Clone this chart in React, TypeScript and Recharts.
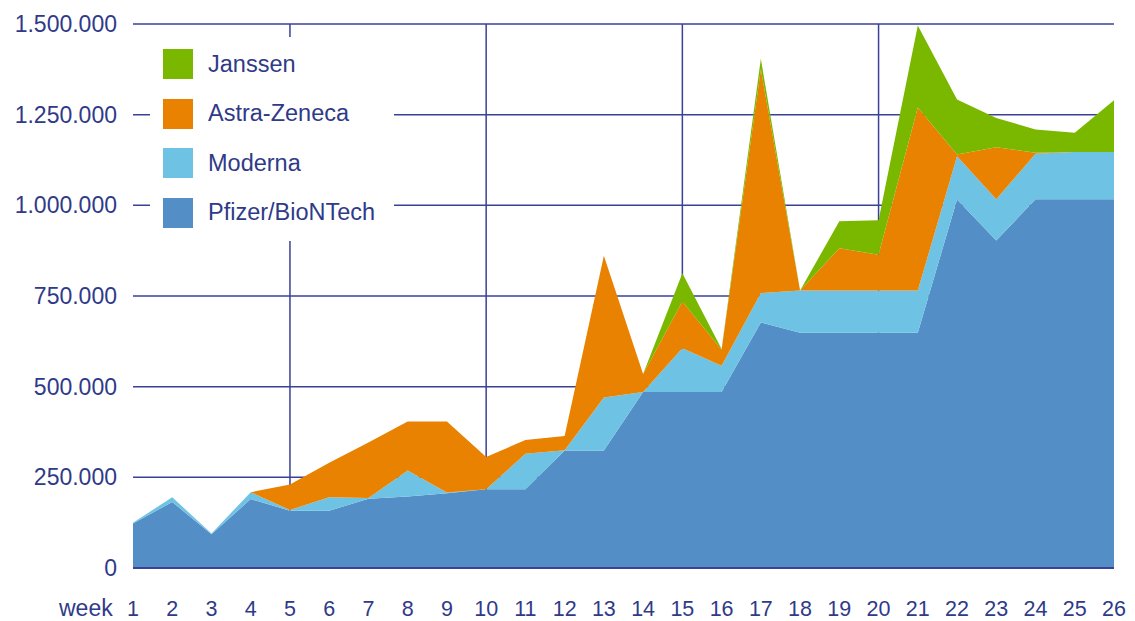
import React from 'react';
import { AreaChart, Area, XAxis, YAxis, CartesianGrid } from 'recharts';

// weekly deliveries, in thousands of doses
const weeks = [1, 2, 3, 4, 5, 6, 7, 8, 9, 10, 11, 12, 13, 14, 15, 16, 17, 18, 19, 20, 21, 22, 23, 24, 25, 26];
const pfizer = [123, 182, 93, 190, 158, 158, 191, 197, 206, 217, 217, 324, 324, 485, 485, 485, 677, 649, 649, 649, 649, 1016, 903, 1017, 1017, 1017];
const moderna = [2, 13, 2, 19, 2, 37, 2, 72, 2, 0, 98, 1, 146, 0, 121, 73, 81, 116, 116, 116, 116, 119, 114, 125, 130, 130];
const astra = [0, 0, 0, 0, 70, 95, 153, 135, 196, 89, 38, 39, 391, 50, 129, 44, 617, 0, 117, 99, 505, 5, 143, 3, 0, 0];
const janssen = [0, 0, 0, 0, 0, 0, 0, 0, 0, 0, 0, 0, 0, 0, 78, 2, 29, 0, 74, 95, 226, 152, 81, 64, 53, 143];

const yTicks = [0, 250000, 500000, 750000, 1000000, 1250000, 1500000];
const gridWeeks = [5, 10, 15, 20];
const xDomain = [1, 26];

const series = [
  { key: 'janssen', name: 'Janssen', color: '#7ab800' },
  { key: 'astra', name: 'Astra-Zeneca', color: '#e88200' },
  { key: 'moderna', name: 'Moderna', color: '#6ec3e4' },
  { key: 'pfizer', name: 'Pfizer/BioNTech', color: '#538ec7' },
];

const data = weeks.map((w, i) => ({
  week: w,
  pfizer: pfizer[i] * 1000,
  moderna: moderna[i] * 1000,
  astra: astra[i] * 1000,
  janssen: janssen[i] * 1000,
}));

const textColor = '#2f3a88';
const lineColor = '#3a4196';
const font = '"Liberation Sans", Arial, sans-serif';

const fmt = (v: number) => String(v).replace(/\B(?=(\d{3})+(?!\d))/g, '.');

// vertical grid only every 5 weeks
const gridX = ({ xAxis, offset }: any) =>
  gridWeeks.map((w) =>
    xAxis && typeof xAxis.scale === 'function'
      ? xAxis.scale(w)
      : offset.left + ((w - xDomain[0]) / (xDomain[1] - xDomain[0])) * offset.width
  );

export default function App() {
  const stackOrder = [...series].reverse();
  return (
    <div style={{ position: 'absolute', left: 0, top: 0, width: 1135, height: 621, fontFamily: font, background: '#fff', overflow: 'hidden' }}>
      <AreaChart width={1135} height={621} data={data} margin={{ top: 24, right: 21, bottom: 0, left: 0 }}>
        <CartesianGrid stroke={lineColor} strokeWidth={1.5} verticalCoordinatesGenerator={gridX} />
        <XAxis
          dataKey="week"
          type="number"
          domain={xDomain}
          ticks={weeks}
          interval={0}
          tickLine={false}
          axisLine={{ stroke: lineColor, strokeWidth: 2 }}
          tick={{ fill: textColor, fontSize: 21.5, fontFamily: font }}
          tickMargin={27}
          height={53}
        />
        <YAxis
          domain={[0, 1500000]}
          ticks={yTicks}
          width={133}
          tickLine={false}
          axisLine={false}
          tickFormatter={fmt}
          tick={{ fill: textColor, fontSize: 23, fontFamily: font }}
          tickMargin={10}
        />
        {stackOrder.map((s) => (
          <Area
            key={s.key}
            type="linear"
            dataKey={s.key}
            name={s.name}
            stackId="1"
            stroke="none"
            fill={s.color}
            fillOpacity={1}
            isAnimationActive={false}
          />
        ))}
      </AreaChart>

      <div
        style={{
          position: 'absolute',
          left: 150,
          top: 37,
          width: 244,
          height: 204,
          background: '#fff',
        }}
      >
        {series.map((s, i) => (
          <div
            key={s.key}
            style={{ position: 'absolute', left: 13, top: 12 + i * 49.5, height: 30, display: 'flex', alignItems: 'center' }}
          >
            <div style={{ width: 30, height: 30, background: s.color }} />
            <span style={{ marginLeft: 15, fontSize: 23.5, color: textColor, whiteSpace: 'nowrap' }}>{s.name}</span>
          </div>
        ))}
      </div>

      <div style={{ position: 'absolute', left: 59, top: 597, fontSize: 23, color: textColor, lineHeight: '22px' }}>week</div>
    </div>
  );
}
